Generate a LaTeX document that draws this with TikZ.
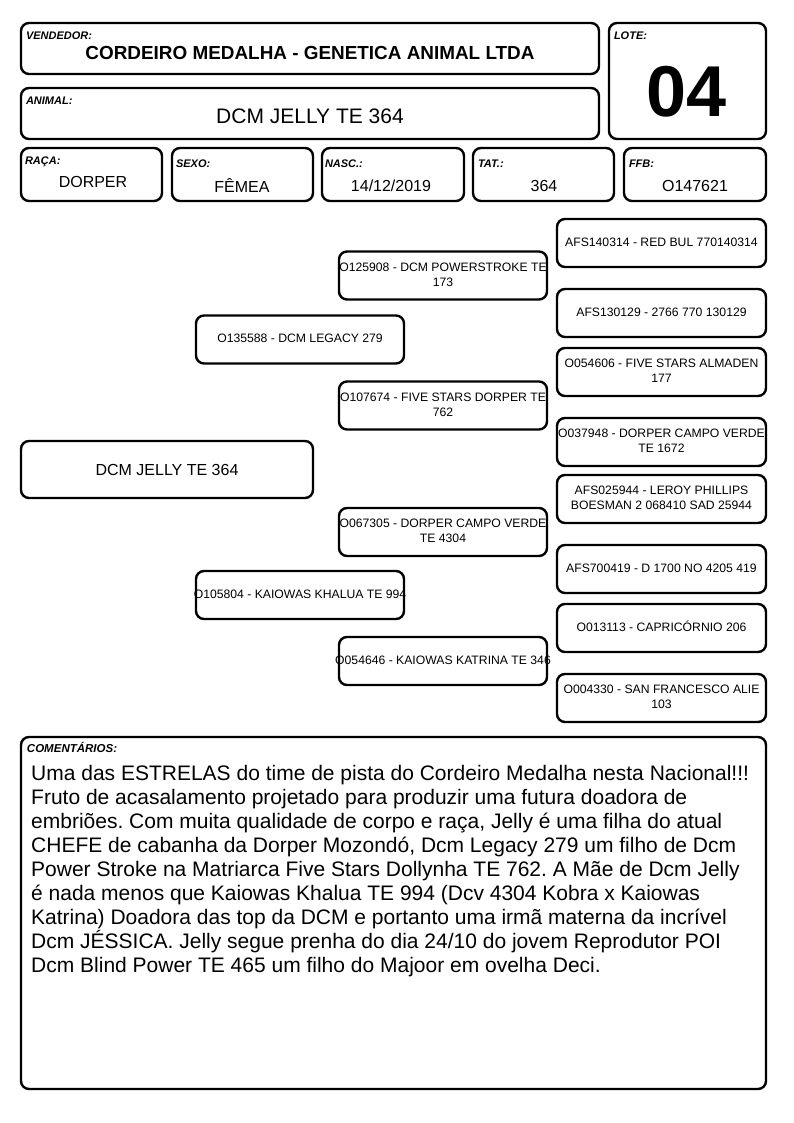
\documentclass[tikz,border=0pt]{standalone}
\usepackage{fontspec}
\setmainfont{Liberation Sans}
\usetikzlibrary{calc}
\newcommand{\pedtxt}[1]{\makebox[0pt][c]{\begin{tabular}{@{}c@{}}#1\end{tabular}}}
\begin{document}
\frenchspacing
\begin{tikzpicture}[x=1pt,y=-1pt,
  box/.style={draw=black, line width=2.4pt, rounded corners=8pt, inner sep=0pt},
  lab/.style={anchor=west, inner sep=0pt, font=\bfseries\itshape\fontsize{11}{12}\selectfont},
  val/.style={inner sep=0pt, font=\fontsize{16}{18}\selectfont},
  ped/.style={box, minimum width=208pt, minimum height=48pt, font=\fontsize{12.2}{15}\selectfont},
]
\useasboundingbox (0,0) rectangle (794,1123);
% header boxes
\node[box, minimum width=578pt, minimum height=51pt] (vend) at (310,48.5) {};
\node[box, minimum width=578pt, minimum height=51pt] (anim) at (310,113.5) {};
\node[box, minimum width=157pt, minimum height=116pt] (lote) at (687.5,81) {};
\node[box, minimum width=141pt, minimum height=53pt] (raca) at (91.5,174.5) {};
\node[box, minimum width=141pt, minimum height=53pt] (sexo) at (242.5,174.5) {};
\node[box, minimum width=142pt, minimum height=53pt] (nasc) at (393,174.5) {};
\node[box, minimum width=141pt, minimum height=53pt] (tat) at (543.5,174.5) {};
\node[box, minimum width=142pt, minimum height=53pt] (ffb) at (695,174.5) {};
% labels
\node[lab] (vendl) at ($(vend.north west)+(6,13.5)$) {VENDEDOR:};
\node[lab] (animl) at ($(anim.north west)+(6,13.5)$) {ANIMAL:};
\node[lab] (lotel) at ($(lote.north west)+(6,13.5)$) {LOTE:};
\node[lab] (racal) at ($(raca.north west)+(5,15)$) {RAÇA:};
\node[lab] (sexol) at ($(sexo.north west)+(5,16.5)$) {SEXO:};
\node[lab] (nascl) at ($(nasc.north west)+(4,16.5)$) {NASC.:};
\node[lab] (tatl) at ($(tat.north west)+(6,16.5)$) {TAT.:};
\node[lab] (ffbl) at ($(ffb.north west)+(6,16.5)$) {FFB:};
% values
\node[inner sep=0pt, font=\bfseries\fontsize{18.9}{20}\selectfont] (vendv) at (310,53) {CORDEIRO MEDALHA - GENETICA ANIMAL LTDA};
\node[inner sep=0pt, font=\fontsize{21}{22}\selectfont] (animv) at (310,116) {DCM JELLY TE 364};
\node[inner sep=0pt, font=\bfseries\fontsize{72}{74}\selectfont] (lotev) at (687,92) {04};
\node[val] (racav) at (93,182) {DORPER};
\node[val] (sexov) at (242,186) {FÊMEA};
\node[val] (nascv) at (391,186) {14/12/2019};
\node[val] (tatv) at (544,186) {364};
\node[val] (ffbv) at (695,186) {O147621};
% pedigree
\node[box, minimum width=292pt, minimum height=57pt, font=\fontsize{16}{18}\selectfont] (main) at (167,469.5) {DCM JELLY TE 364};
\node[ped] (p1) at (300,339.5) {\pedtxt{O135588 - DCM LEGACY 279}};
\node[ped] (p2) at (300,595) {\pedtxt{O105804 - KAIOWAS KHALUA TE 994}};
\node[ped] (g1) at (443,275.5) {\pedtxt{O125908 - DCM POWERSTROKE TE\\173}};
\node[ped] (g2) at (443,405.5) {\pedtxt{O107674 - FIVE STARS DORPER TE\\762}};
\node[ped] (g3) at (443,532) {\pedtxt{O067305 - DORPER CAMPO VERDE\\TE 4304}};
\node[ped] (g4) at (443,661) {\pedtxt{O054646 - KAIOWAS KATRINA TE 346}};
\node[ped, minimum width=209pt] (h1) at (661.5,243) {\pedtxt{AFS140314 - RED BUL 770140314}};
\node[ped, minimum width=209pt] (h2) at (661.5,313) {\pedtxt{AFS130129 - 2766 770 130129}};
\node[ped, minimum width=209pt] (h3) at (661.5,372) {\pedtxt{O054606 - FIVE STARS ALMADEN\\177}};
\node[ped, minimum width=209pt] (h4) at (661.5,442) {\pedtxt{O037948 - DORPER CAMPO VERDE\\TE 1672}};
\node[ped, minimum width=209pt] (h5) at (661.5,499) {\pedtxt{AFS025944 - LEROY PHILLIPS\\BOESMAN 2 068410 SAD 25944}};
\node[ped, minimum width=209pt] (h6) at (661.5,569) {\pedtxt{AFS700419 - D 1700 NO 4205 419}};
\node[ped, minimum width=209pt] (h7) at (661.5,628) {\pedtxt{O013113 - CAPRICÓRNIO 206}};
\node[ped, minimum width=209pt] (h8) at (661.5,698) {\pedtxt{O004330 - SAN FRANCESCO ALIE\\103}};
% comments
\node[box, minimum width=745pt, minimum height=352pt] (com) at (393.5,913) {};
\node[lab, font=\bfseries\itshape\fontsize{11.5}{12}\selectfont] (coml) at ($(com.north west)+(7,12)$) {COMENTÁRIOS:};
\node[anchor=north west, inner sep=0pt, align=left, font=\fontsize{21}{24}\selectfont] (comt) at (31,765) {Uma das ESTRELAS do time de pista do Cordeiro Medalha nesta Nacional!!!\\
Fruto de acasalamento projetado para produzir uma futura doadora de\\
embriões. Com muita qualidade de corpo e raça, Jelly é uma filha do atual\\
CHEFE de cabanha da Dorper Mozondó, Dcm Legacy 279 um filho de Dcm\\
Power Stroke na Matriarca Five Stars Dollynha TE 762. A Mãe de Dcm Jelly\\
é nada menos que Kaiowas Khalua TE 994 (Dcv 4304 Kobra x Kaiowas\\
Katrina) Doadora das top da DCM e portanto uma irmã materna da incrível\\
Dcm JÉSSICA. Jelly segue prenha do dia 24/10 do jovem Reprodutor POI\\
Dcm Blind Power TE 465 um filho do Majoor em ovelha Deci.};
\end{tikzpicture}
\end{document}
